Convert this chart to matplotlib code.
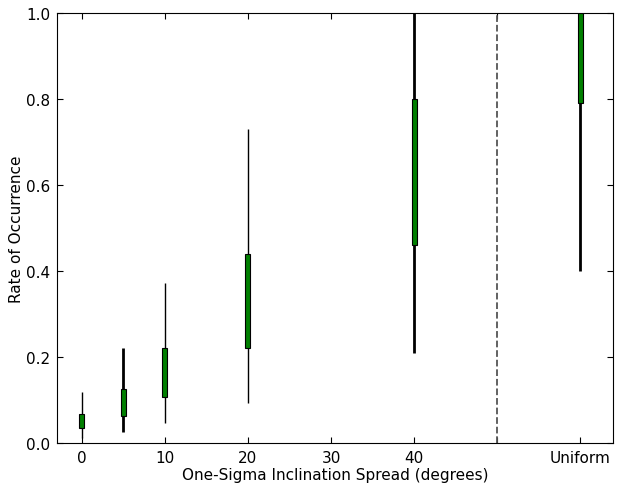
import matplotlib
matplotlib.use("Agg")
import matplotlib.pyplot as plt

# spread values; "Uniform" sits at x=60 past the dashed divider
positions = [0, 5, 10, 20, 40, 60]
box_low = [0.034, 0.062, 0.107, 0.221, 0.460, 0.790]
box_high = [0.068, 0.126, 0.221, 0.440, 0.800, 1.000]
whisk_low = [0.010, 0.026, 0.045, 0.093, 0.210, 0.400]
whisk_high = [0.117, 0.221, 0.371, 0.731, 1.000, 1.000]
whisk_width = [1.0, 2.0, 1.0, 1.0, 2.0, 2.0]
tick_pos = [0, 10, 20, 30, 40, 50, 60]
tick_labels = ["0", "10", "20", "30", "40", "", "Uniform"]

fig = plt.figure(figsize=(6.19, 4.85), dpi=100)
ax = fig.add_axes([0.092, 0.085, 0.899, 0.886])

ax.vlines(positions, whisk_low, whisk_high, colors="black", linewidths=whisk_width, zorder=2)
heights = [h - l for l, h in zip(box_low, box_high)]
ax.bar(positions, heights, bottom=box_low, width=0.6, color="green",
       edgecolor="black", linewidth=0.8, zorder=3)

ax.axvline(50, color="#555555", linestyle="--", linewidth=1.3)

ax.set_xlim(-3, 64)
ax.set_ylim(0, 1.0)
ax.set_xticks(tick_pos)
ax.set_xticklabels(tick_labels)
ax.set_yticks([0.0, 0.2, 0.4, 0.6, 0.8, 1.0])
ax.tick_params(direction="in", top=True, right=True, labelsize=11, length=4, pad=5)
ax.set_xlabel("One-Sigma Inclination Spread (degrees)", fontsize=11, labelpad=2)
ax.set_ylabel("Rate of Occurrence", fontsize=11, labelpad=1)

fig.savefig("out.png", dpi=100)
